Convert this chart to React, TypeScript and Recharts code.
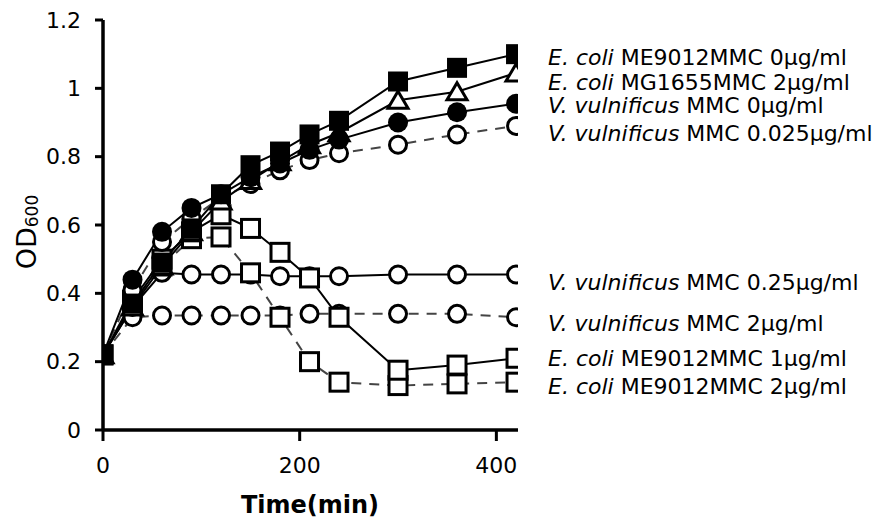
import React from 'react';
import { LineChart, Line, XAxis, YAxis } from 'recharts';

// sampling times (min)
const times = [0, 30, 60, 90, 120, 150, 180, 210, 240, 300, 360, 420];

// OD600 per strain / MMC dose
const ecoliMe9012Mmc0 = [0.22, 0.37, 0.49, 0.59, 0.69, 0.775, 0.815, 0.865, 0.905, 1.02, 1.06, 1.1];
const ecoliMg1655Mmc2 = [0.22, 0.36, 0.48, 0.58, 0.67, 0.73, 0.785, 0.835, 0.87, 0.965, 0.99, 1.045];
const vulnMmc0 = [0.22, 0.44, 0.58, 0.65, 0.69, 0.74, 0.78, 0.82, 0.85, 0.9, 0.93, 0.955];
const vulnMmc0025 = [0.22, 0.41, 0.55, 0.62, 0.68, 0.72, 0.76, 0.79, 0.81, 0.835, 0.865, 0.89];
const vulnMmc025 = [0.22, 0.36, 0.46, 0.455, 0.455, 0.455, 0.45, 0.45, 0.45, 0.455, 0.455, 0.455];
const vulnMmc2 = [0.22, 0.33, 0.335, 0.335, 0.335, 0.335, 0.335, 0.34, 0.34, 0.34, 0.34, 0.33];
const ecoliMe9012Mmc1 = [0.22, 0.38, 0.5, 0.58, 0.63, 0.59, 0.52, 0.445, 0.33, 0.175, 0.19, 0.21];
const ecoliMe9012Mmc2 = [0.22, 0.37, 0.48, 0.56, 0.565, 0.46, 0.33, 0.2, 0.14, 0.13, 0.135, 0.14];

const yTicks = [0, 0.2, 0.4, 0.6, 0.8, 1, 1.2];
const xTicks = [0, 200, 400];

// legend: italic species part + rest
const legendSpecies = ['E. coli', 'E. coli', 'V. vulnificus', 'V. vulnificus', 'V. vulnificus', 'V. vulnificus', 'E. coli', 'E. coli'];
const legendRest = [
  ' ME9012MMC 0µg/ml',
  ' MG1655MMC 2µg/ml',
  ' MMC 0µg/ml',
  ' MMC 0.025µg/ml',
  ' MMC 0.25µg/ml',
  ' MMC 2µg/ml',
  ' ME9012MMC 1µg/ml',
  ' ME9012MMC 2µg/ml',
];
const legendBaselines = [65, 90, 113, 141, 290, 331, 366, 394];

const data = times.map((t, i) => ({
  t,
  a: ecoliMe9012Mmc0[i],
  b: ecoliMg1655Mmc2[i],
  c: vulnMmc0[i],
  d: vulnMmc0025[i],
  e: vulnMmc025[i],
  f: vulnMmc2[i],
  g: ecoliMe9012Mmc1[i],
  h: ecoliMe9012Mmc2[i],
}));

const FONT = '"DejaVu Sans", Verdana, sans-serif';

const filledSquare = (p: any) =>
  p.cx == null ? <g key={p.index} /> : <rect key={p.index} x={p.cx - 10} y={p.cy - 10} width={20} height={20} fill="#000" />;
const openSquare = (p: any) =>
  p.cx == null ? <g key={p.index} /> : (
    <rect key={p.index} x={p.cx - 9} y={p.cy - 9} width={18} height={18} fill="#fff" stroke="#000" strokeWidth={3} />
  );
const filledCircle = (p: any) =>
  p.cx == null ? <g key={p.index} /> : <circle key={p.index} cx={p.cx} cy={p.cy} r={10} fill="#000" />;
const openCircle = (p: any) =>
  p.cx == null ? <g key={p.index} /> : (
    <circle key={p.index} cx={p.cx} cy={p.cy} r={8.5} fill="#fff" stroke="#000" strokeWidth={3} />
  );
const openTriangle = (p: any) =>
  p.cx == null ? <g key={p.index} /> : (
    <polygon
      key={p.index}
      points={`${p.cx},${p.cy - 9} ${p.cx + 10},${p.cy + 8} ${p.cx - 10},${p.cy + 8}`}
      fill="#fff"
      stroke="#000"
      strokeWidth={3}
    />
  );

export default function App() {
  return (
    <div style={{ position: 'absolute', left: 0, top: 0, width: 874, height: 524, background: '#fff', fontFamily: FONT }}>
      <LineChart width={874} height={524} data={data} margin={{ top: 20, right: 356, bottom: 0, left: 33 }}>
        <XAxis
          type="number"
          dataKey="t"
          domain={[0, 422]}
          ticks={xTicks}
          allowDataOverflow
          height={94}
          axisLine={{ stroke: '#000', strokeWidth: 3.5 }}
          tickLine={{ stroke: '#000', strokeWidth: 3 }}
          tickSize={11}
          tickMargin={16}
          tick={{ fill: '#000', fontSize: 22, fontFamily: FONT }}
        />
        <YAxis
          type="number"
          domain={[0, 1.2]}
          ticks={yTicks}
          width={70}
          axisLine={{ stroke: '#000', strokeWidth: 3.5 }}
          tickLine={{ stroke: '#000', strokeWidth: 3 }}
          tickSize={8}
          tickMargin={14}
          tickFormatter={(v: number) => String(+v.toFixed(1))}
          tick={{ fill: '#000', fontSize: 22, fontFamily: FONT }}
        />
        <Line type="linear" dataKey="f" stroke="#444" strokeWidth={2} strokeDasharray="10 8" dot={openCircle} activeDot={false} isAnimationActive={false} />
        <Line type="linear" dataKey="e" stroke="#000" strokeWidth={2} dot={openCircle} activeDot={false} isAnimationActive={false} />
        <Line type="linear" dataKey="h" stroke="#444" strokeWidth={2} strokeDasharray="10 8" dot={openSquare} activeDot={false} isAnimationActive={false} />
        <Line type="linear" dataKey="g" stroke="#000" strokeWidth={2} dot={openSquare} activeDot={false} isAnimationActive={false} />
        <Line type="linear" dataKey="d" stroke="#444" strokeWidth={2} strokeDasharray="10 8" dot={openCircle} activeDot={false} isAnimationActive={false} />
        <Line type="linear" dataKey="b" stroke="#000" strokeWidth={2} dot={openTriangle} activeDot={false} isAnimationActive={false} />
        <Line type="linear" dataKey="c" stroke="#000" strokeWidth={2} dot={filledCircle} activeDot={false} isAnimationActive={false} />
        <Line type="linear" dataKey="a" stroke="#000" strokeWidth={2} dot={filledSquare} activeDot={false} isAnimationActive={false} />
      </LineChart>
      <svg width={874} height={524} style={{ position: 'absolute', left: 0, top: 0, pointerEvents: 'none' }}>
        {legendSpecies.map((sp, i) => (
          <text key={i} x={548} y={legendBaselines[i]} fontSize={22} fontFamily={FONT} fill="#000">
            <tspan fontStyle="italic">{sp}</tspan>
            <tspan>{legendRest[i]}</tspan>
          </text>
        ))}
        <text x={310} y={513} textAnchor="middle" fontSize={24} fontWeight="bold" fontFamily={FONT} fill="#000">
          Time(min)
        </text>
        <text transform="translate(36,232) rotate(-90)" textAnchor="middle" fontSize={27} fontFamily={FONT} fill="#000">
          OD<tspan fontSize={17} dy={2}>600</tspan>
        </text>
      </svg>
    </div>
  );
}
